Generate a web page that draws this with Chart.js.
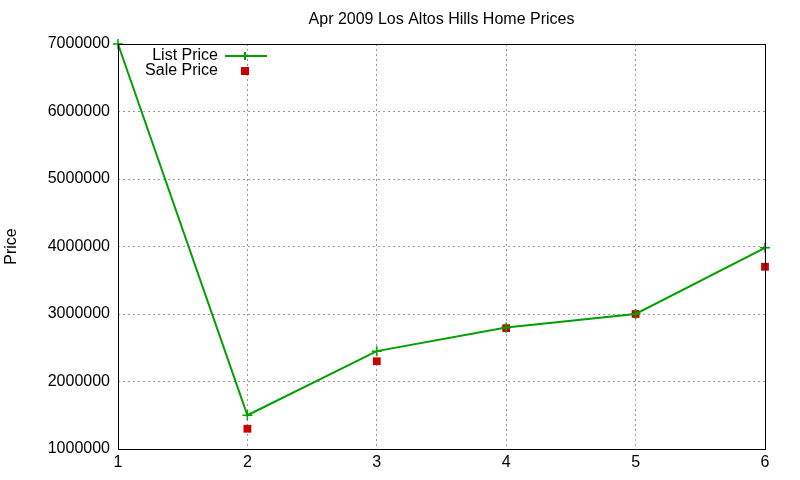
<!DOCTYPE html>
<html><head><meta charset="utf-8">
<script src="https://cdn.jsdelivr.net/npm/chart.js@4/dist/chart.umd.min.js"></script>
<style>html,body{margin:0;padding:0;background:#fff}#w{width:800px;height:480px}</style>
</head><body><div id="w"><canvas id="c"></canvas></div>
<script>
const xValues = [1, 2, 3, 4, 5, 6];
const listPrice = [7000000, 1500000, 2450000, 2800000, 3000000, 3980000];
const salePrice = [null, 1300000, 2300000, 2790000, 3000000, 3700000];
const yTicks = [1000000, 2000000, 3000000, 4000000, 5000000, 6000000, 7000000];
const titleText = 'Apr 2009 Los Altos Hills Home Prices';
const FONT = '"Liberation Sans", Arial, sans-serif';

const overlay = {
  id: 'overlay',
  afterDraw(chart) {
    const {ctx, chartArea: a} = chart;
    ctx.save();
    ctx.strokeStyle = '#000'; ctx.lineWidth = 1;
    ctx.strokeRect(a.left + 0.5, a.top + 0.5, a.right - a.left, a.bottom - a.top);
    ctx.fillStyle = '#000';
    ctx.font = '16px ' + FONT;
    ctx.textAlign = 'center'; ctx.textBaseline = 'middle';
    ctx.fillText(titleText, (a.left + a.right) / 2, 20);
    ctx.translate(12, (a.top + a.bottom) / 2);
    ctx.rotate(-Math.PI / 2);
    ctx.fillText('Price', 0, 0);
    ctx.restore();
    ctx.save();
    ctx.font = '16px ' + FONT;
    ctx.textAlign = 'right'; ctx.textBaseline = 'middle';
    const ds = chart.data.datasets;
    ds.forEach((d, i) => {
      const y = 56 + i * 15;
      ctx.fillStyle = '#000';
      ctx.fillText(d.label, 218, y);
      if (i === 0) {
        ctx.strokeStyle = d.borderColor; ctx.lineWidth = 2;
        ctx.beginPath(); ctx.moveTo(225, y); ctx.lineTo(267, y); ctx.stroke();
        ctx.beginPath(); ctx.moveTo(245, y - 4); ctx.lineTo(245, y + 4);
        ctx.moveTo(241, y); ctx.lineTo(249, y); ctx.stroke();
      } else {
        ctx.fillStyle = d.backgroundColor;
        ctx.fillRect(241, y - 4, 8, 8);
      }
    });
    ctx.restore();
  }
};

new Chart(document.getElementById('c'), {
  type: 'line',
  data: {
    datasets: [
      { label: 'List Price', data: xValues.map((x, i) => ({x, y: listPrice[i]})),
        borderColor: '#00a000', backgroundColor: '#00a000', borderWidth: 2, clip: false,
        pointStyle: 'cross', pointRadius: 5, pointBorderWidth: 1.5, tension: 0 },
      { label: 'Sale Price', data: xValues.map((x, i) => ({x, y: salePrice[i]})),
        showLine: false, borderColor: '#cc0000', backgroundColor: '#cc0000', clip: false,
        pointStyle: 'rect', pointRadius: 5.5, pointBorderWidth: 0 }
    ]
  },
  options: {
    responsive: true, maintainAspectRatio: false, animation: false,
    layout: { padding: { top: 44, right: 35, left: 0, bottom: 0 } },
    plugins: { legend: { display: false }, title: { display: false }, tooltip: { enabled: false } },
    scales: {
      x: { type: 'linear', min: 1, max: 6,
        afterFit(s) { s.height = 31; },
        grid: { color: '#999', lineWidth: 1, drawTicks: false },
        border: { display: false, dash: [2, 3] },
        ticks: { stepSize: 1, color: '#000', font: { size: 16, family: FONT }, padding: 4 } },
      y: { min: 1000000, max: 7000000,
        afterFit(s) { s.width = 118; },
        afterBuildTicks(s) { s.ticks = yTicks.map(v => ({value: v})); },
        grid: { color: '#999', lineWidth: 1, drawTicks: false },
        border: { display: false, dash: [2, 3] },
        ticks: { color: '#000', font: { size: 16, family: FONT }, padding: 8, callback: v => String(v) } }
    }
  },
  plugins: [overlay]
});
</script></body></html>
